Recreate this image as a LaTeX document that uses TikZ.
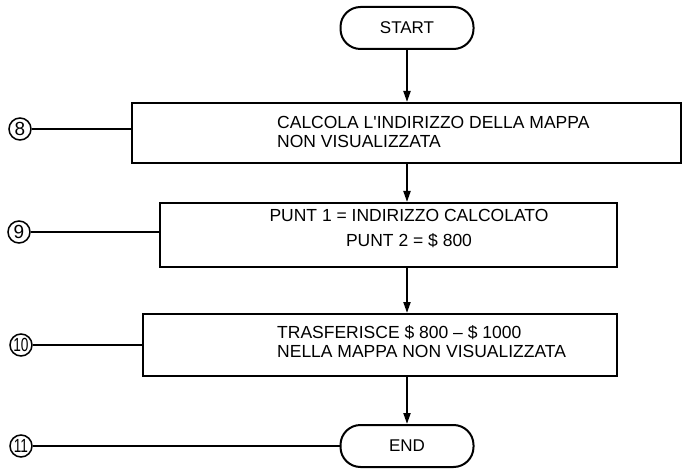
\documentclass[tikz,border=0pt]{standalone}
\usepackage{fontspec}
\usepackage{graphicx}
\setmainfont{Liberation Sans}
\usetikzlibrary{arrows.meta}
\begin{document}
\begin{tikzpicture}[x=1pt,y=-1pt,
  proc/.style={draw, line width=2pt, inner sep=0pt},
  term/.style={draw, line width=2pt, rounded corners=20pt, minimum width=133pt, minimum height=42pt, inner sep=0pt, font=\fontsize{17}{18}\selectfont},
  txt/.style={font=\fontsize{17.5}{19}\selectfont, align=left, inner sep=0pt},
  num/.style={circle, draw, line width=1.5pt, inner sep=0pt, minimum size=22pt, font=\fontsize{19}{19}\selectfont},
  flow/.style={line width=2pt, -{Triangle[length=11pt,width=7pt]}},
  tag/.style={line width=1.3pt}]
\useasboundingbox[fill=white] (0,0) rectangle (682,470);

% terminals
\node[term] (start) at (407,28) {START};
\node[term] (end) at (407,446) {END};

% process boxes
\node[proc, minimum width=549pt, minimum height=60pt] (b1) at (406.5,133) {};
\node[txt, anchor=west] (t1) at (277,131.5) {CALCOLA L\textquotesingle INDIRIZZO DELLA MAPPA\\NON VISUALIZZATA};

\node[proc, minimum width=457pt, minimum height=64pt] (b2) at (388.5,235) {};
\node[txt, align=center, font=\fontsize{17.5}{25}\selectfont] (t2) at (409,228) {PUNT 1 = INDIRIZZO CALCOLATO\\PUNT 2 = \$ 800};

\node[proc, minimum width=474pt, minimum height=62pt] (b3) at (380,345) {};
\node[txt, anchor=west] (t3) at (277,342) {TRASFERISCE \$ 800 -- \$ 1000\\NELLA MAPPA NON VISUALIZZATA};

% flow arrows
\draw[flow] (start.south) -- (start.south |- b1.north);
\draw[flow] (start.south |- b1.south) -- (start.south |- b2.north);
\draw[flow] (start.south |- b2.south) -- (start.south |- b3.north);
\draw[flow] (start.south |- b3.south) -- (end.north);

% step numbers
\node[num] (n8) at (20,129) {\makebox[0pt]{8}};
\node[num] (n9) at (19,232) {\makebox[0pt]{9}};
\node[num] (n10) at (21,345) {\makebox[0pt]{\scalebox{0.72}[1]{10}}};
\node[num] (n11) at (21,446) {\makebox[0pt]{\scalebox{0.72}[1]{11}}};

\draw[tag] (n8.east) -- (n8.east -| b1.west);
\draw[tag] (n9.east) -- (n9.east -| b2.west);
\draw[tag] (n10.east) -- (n10.east -| b3.west);
\draw[tag] (n11.east) -- (end.west);
\end{tikzpicture}
\end{document}
